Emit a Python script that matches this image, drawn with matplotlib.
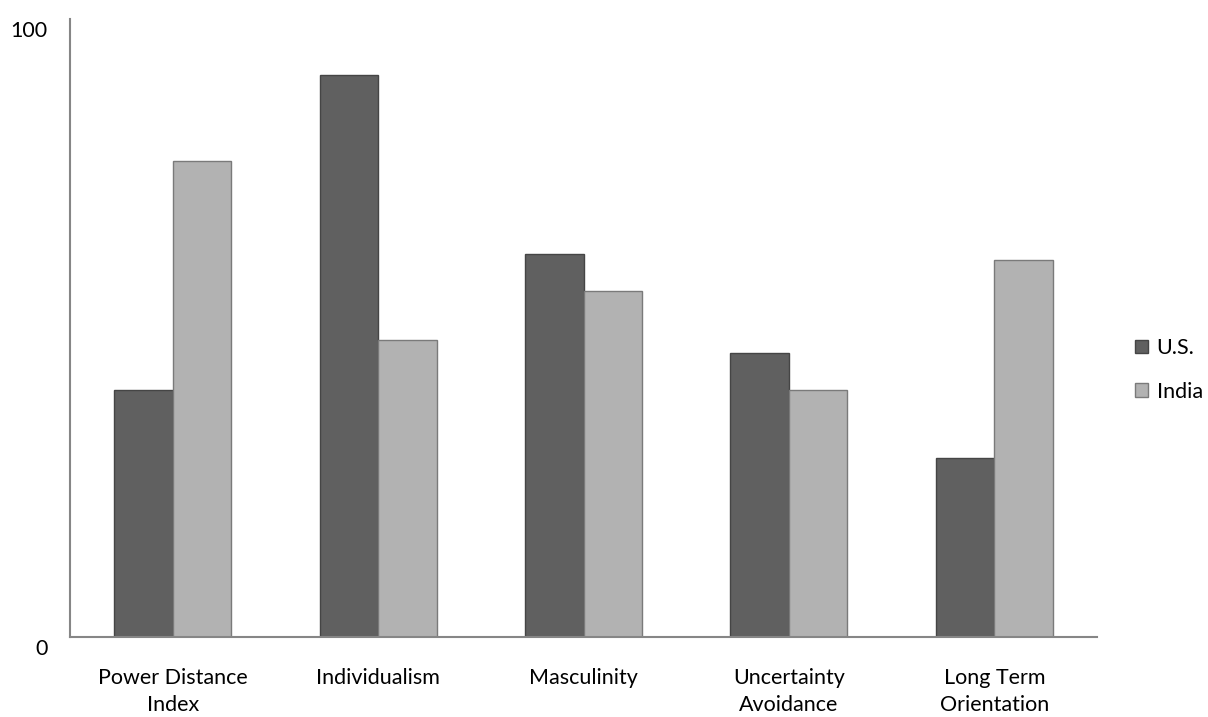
import matplotlib
matplotlib.use("Agg")
import matplotlib.pyplot as plt
from matplotlib.patches import Patch
from matplotlib.transforms import ScaledTranslation
import numpy as np

plt.rcParams['font.family'] = ['Lato', 'DejaVu Sans']

categories = ["Power Distance\nIndex", "Individualism", "Masculinity",
              "Uncertainty\nAvoidance", "Long Term\nOrientation"]
us_values = [40, 91, 62, 46, 29]
india_values = [77, 48, 56, 40, 61]
series_names = ["U.S.", "India"]

fig = plt.figure(figsize=(12.08, 7.17), dpi=100)
ax = fig.add_axes([70 / 1208, 80 / 717, 1027 / 1208, 618 / 717])

x = np.arange(len(categories))
w = 0.285
ax.bar(x - w / 2, us_values, w, color="#606060", edgecolor="#454545", linewidth=1)
ax.bar(x + w / 2, india_values, w, color="#b2b2b2", edgecolor="#7a7a7a", linewidth=1)

ax.set_xlim(-0.5, len(categories) - 0.5)
ax.set_ylim(0, 100)
ax.set_yticks([0, 100])
ax.set_yticklabels(["0", "100"])
ax.set_xticks(x)
ax.set_xticklabels(categories, linespacing=1.45)
ax.tick_params(axis="both", length=0, labelsize=15.5, colors="black")
ax.tick_params(axis="y", pad=16)
ax.tick_params(axis="x", pad=22)

# value labels sit slightly below their gridline position
shift = ScaledTranslation(0, -10 / 100, fig.dpi_scale_trans)
for lbl in ax.get_yticklabels():
    lbl.set_transform(lbl.get_transform() + shift)

for side in ["top", "right"]:
    ax.spines[side].set_visible(False)
for side in ["left", "bottom"]:
    ax.spines[side].set_color("#868686")
    ax.spines[side].set_linewidth(1.5)

handles = [Patch(facecolor="#606060", edgecolor="#454545"),
           Patch(facecolor="#b2b2b2", edgecolor="#7a7a7a")]
fig.legend(handles, series_names, loc="center left",
           bbox_to_anchor=(1135 / 1208, 1 - 370 / 717), frameon=False,
           borderaxespad=0, borderpad=0,
           fontsize=15.5, handlelength=0.6, handleheight=0.6,
           handletextpad=0.4, labelspacing=1.1)

fig.savefig("out.png", dpi=100, facecolor="white")
